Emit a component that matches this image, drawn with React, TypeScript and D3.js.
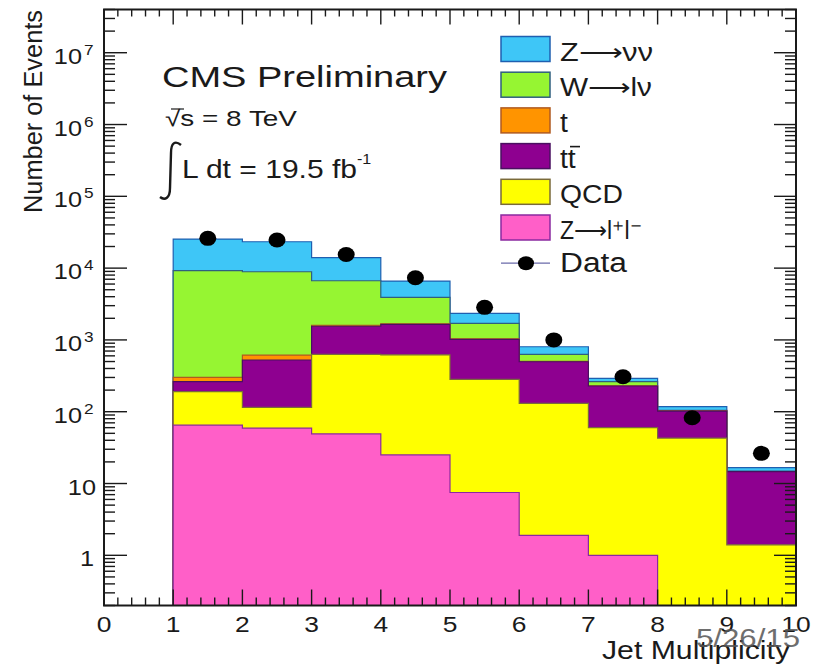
import React from 'react';
import * as d3 from 'd3';

// jet multiplicity bins (lower edges, width 1)
const binLow = [1, 2, 3, 4, 5, 6, 7, 8, 9];

// stacked MC components, per bin
const zll = [65, 59, 49, 25, 7.5, 1.9, 1.0, 0, 0];
const qcd = [125, 56, 581, 595, 275, 129, 59, 43, 1.4];
const ttbar = [72, 410, 920, 1030, 738, 366, 168, 59, 13.2];
const singleTop = [39, 91, 50, 30, 15, 5, 2, 0.5, 0.1];
const wlnu = [8900, 8284, 5070, 2240, 665, 128, 32, 2, 0.2];
const znunu = [16200, 14400, 7290, 2690, 640, 174, 30, 13, 1.7];

const observed = [26000, 24600, 15500, 7350, 2840, 1000, 307, 82.5, 26.3];

const yDecades = [0, 1, 2, 3, 4, 5, 6, 7];
const xMajor = [0, 1, 2, 3, 4, 5, 6, 7, 8, 9, 10];

const series = [
  { key: 'zll', values: zll, fill: '#ff5fc8', line: '#8a2aa0', label: 'Z⟶l⁺l⁻', w: 82 },
  { key: 'qcd', values: qcd, fill: '#ffff00', line: '#7a6a3a', label: 'QCD', w: 63 },
  { key: 'ttbar', values: ttbar, fill: '#8e0090', line: '#4a1060', label: 'tt', w: 0 },
  { key: 'top', values: singleTop, fill: '#ff9400', line: '#b05a20', label: 't', w: 0 },
  { key: 'wlnu', values: wlnu, fill: '#96f532', line: '#2f5f7f', label: 'W⟶lν', w: 92 },
  { key: 'znunu', values: znunu, fill: '#3ec6f7', line: '#1f5fb0', label: 'Z⟶νν', w: 93 },
];

const W = 821;
const H = 665;
const L = 104, R = 796, T = 9.5, B = 605.5;
const FONT = '"Liberation Sans", Arial, Helvetica, sans-serif';
const INK = '#1a1a1a';

const x = d3.scaleLinear().domain([0, 10]).range([L, R]);
const y = d3.scaleLog().domain([0.2, 4e7]).range([B, T]);
const yMin = 0.2;

function Txt(props: any) {
  const { x, y, size, anchor = 'start', sx = 1.15, w, rotate = 0, fill = INK, children, opacity } = props;
  let tr = `translate(${x},${y})`;
  if (rotate) tr += ` rotate(${rotate})`;
  if (!w) tr += ` scale(${sx},1)`;
  return (
    <text
      transform={tr}
      fontSize={size}
      fontFamily={FONT}
      textAnchor={anchor}
      fill={fill}
      opacity={opacity}
      textLength={w || undefined}
      lengthAdjust={w ? 'spacingAndGlyphs' : undefined}
    >
      {children}
    </text>
  );
}

export default function App() {
  const rows = binLow.map((b, i) => {
    const r: any = { bin: b };
    series.forEach(s => (r[s.key] = s.values[i]));
    return r;
  });
  const stacked = d3.stack<any>().keys(series.map(s => s.key))(rows);

  const area = d3
    .area<{ e: number; v: number }>()
    .x(p => x(p.e))
    .y0(B)
    .y1(p => y(Math.max(p.v, yMin)))
    .curve(d3.curveStepAfter);

  // ROOT style: every histogram filled from the floor, drawn top-most first
  const layers = stacked
    .map((layer, li) => {
      const pts = layer.map((d, i) => ({ e: binLow[i], v: d[1] }));
      pts.push({ e: binLow[binLow.length - 1] + 1, v: layer[layer.length - 1][1] });
      return { s: series[li], d: area(pts) || '' };
    })
    .reverse();

  // ticks
  const yMinor: number[] = [];
  for (let k = -1; k <= 7; k++) {
    for (let m = 2; m <= 9; m++) {
      const v = m * Math.pow(10, k);
      if (v >= yMin && v <= 4e7) yMinor.push(v);
    }
  }
  const xMinor = d3.range(0, 10.001, 0.2).filter(v => Math.abs(v - Math.round(v)) > 1e-6);

  const legendTop = 36.5;
  const pitch = 35.7;
  const legendEntries = [...series].reverse();

  return (
    <svg width={W} height={H} style={{ position: 'absolute', left: 0, top: 0, background: '#fff' }}>
      <rect x={0} y={0} width={W} height={H} fill="#fff" />

      {layers.map(({ s, d }) => (
        <path key={s.key} d={d} fill={s.fill} stroke={s.line} strokeWidth={1.2} />
      ))}

      {observed.map((v, i) => (
        <ellipse key={i} cx={x(binLow[i] + 0.5)} cy={y(v)} rx={8.5} ry={7.5} fill="#000" />
      ))}

      {/* frame */}
      <rect x={L} y={T} width={R - L} height={B - T} fill="none" stroke={INK} strokeWidth={2} />

      {/* y ticks, both sides */}
      <g stroke={INK} strokeWidth={1.4}>
        {yDecades.map(k => {
          const yy = y(Math.pow(10, k));
          return (
            <g key={'yM' + k}>
              <line x1={L} x2={L + 23} y1={yy} y2={yy} />
              <line x1={R} x2={R - 22} y1={yy} y2={yy} />
            </g>
          );
        })}
        {yMinor.map((v, i) => {
          const yy = y(v);
          return (
            <g key={'ym' + i}>
              <line x1={L} x2={L + 11} y1={yy} y2={yy} />
              <line x1={R} x2={R - 11} y1={yy} y2={yy} />
            </g>
          );
        })}
        {xMajor.map(v => (
          <g key={'xM' + v}>
            <line x1={x(v)} x2={x(v)} y1={B} y2={B - 16} />
            <line x1={x(v)} x2={x(v)} y1={T} y2={T + 15} />
          </g>
        ))}
        {xMinor.map((v, i) => (
          <g key={'xm' + i}>
            <line x1={x(v)} x2={x(v)} y1={B} y2={B - 8} />
            <line x1={x(v)} x2={x(v)} y1={T} y2={T + 7} />
          </g>
        ))}
      </g>

      {/* y tick labels */}
      {yDecades.map(k => {
        const yy = y(Math.pow(10, k));
        if (k === 0) return <Txt key={'yl' + k} x={94} y={yy + 11} size={22} anchor="end">1</Txt>;
        if (k === 1) return <Txt key={'yl' + k} x={96} y={yy + 11} size={22} anchor="end">10</Txt>;
        return (
          <g key={'yl' + k}>
            <Txt x={82} y={yy + 11} size={22} anchor="end">10</Txt>
            <Txt x={84} y={yy + 2} size={15} anchor="start">{String(k)}</Txt>
          </g>
        );
      })}

      {/* x tick labels */}
      {xMajor.map(v => (
        <Txt key={'xl' + v} x={x(v)} y={632} size={22} anchor="middle" sx={1.2}>
          {String(v)}
        </Txt>
      ))}

      {/* axis titles */}
      <Txt x={42} y={10} size={25} anchor="end" rotate={-90} w={203}>Number of Events</Txt>
      <Txt x={602} y={659} size={25} w={188}>Jet Multiplicity</Txt>

      {/* CMS labels */}
      <Txt x={162} y={87} size={30} w={285}>CMS Preliminary</Txt>
      <Txt x={165} y={126} size={22} w={132}>√s = 8 TeV</Txt>
      <line x1={171} x2={184} y1={109} y2={109} stroke={INK} strokeWidth={1.2} />
      <path
        d="M160,197 C165,201 170,198 170,188 L171,153 C171,143 175,140 181,145"
        fill="none"
        stroke={INK}
        strokeWidth={2.4}
      />
      <Txt x={182} y={178} size={25} w={175}>L dt = 19.5 fb</Txt>
      <Txt x={357} y={164} size={14}>-1</Txt>

      {/* legend */}
      {legendEntries.map((s, i) => {
        const top = legendTop + pitch * i;
        return (
          <g key={'lg' + s.key}>
            <rect x={501} y={top} width={49} height={25} fill={s.fill} stroke={s.line} strokeWidth={1.5} />
            {s.w ? (
              <Txt x={560} y={top + 24} size={26} w={s.w}>{s.label}</Txt>
            ) : (
              <Txt x={560} y={top + 24} size={27} sx={1.05}>{s.label}</Txt>
            )}
            {s.key === 'ttbar' && (
              <line x1={570} x2={580} y1={top + 3} y2={top + 3} stroke={INK} strokeWidth={1.6} />
            )}
          </g>
        );
      })}
      {(() => {
        const cy = legendTop + pitch * 6 + 12.5;
        return (
          <g>
            <line x1={501} x2={550} y1={cy} y2={cy} stroke="#6a6aaa" strokeWidth={1.3} />
            <ellipse cx={526} cy={cy} rx={8} ry={7} fill="#000" />
            <Txt x={560} y={cy + 9} size={27} w={67}>Data</Txt>
          </g>
        );
      })()}

      {/* slide date overlay */}
      <Txt x={696} y={647} size={25} w={104} fill="#555" opacity={0.85}>5/26/15</Txt>
    </svg>
  );
}
